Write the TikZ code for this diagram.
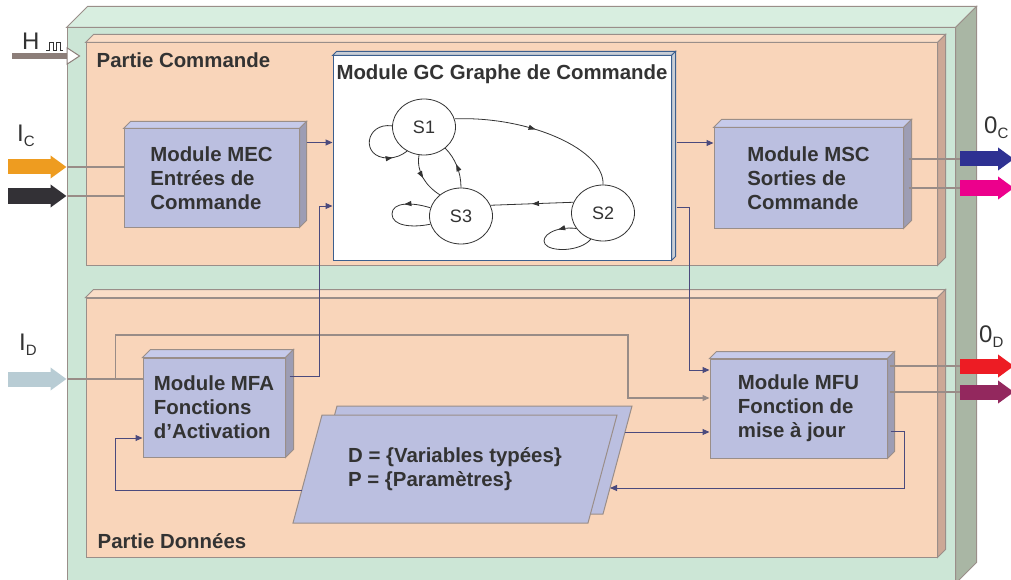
\documentclass[tikz,border=0pt]{standalone}
\usepackage{fontspec}
\setmainfont{Liberation Sans}
\usetikzlibrary{arrows.meta,shapes.geometric,decorations.markings}

\definecolor{vert}{HTML}{CCE6D6}
\definecolor{vertclair}{HTML}{D8EEE0}
\definecolor{vertcote}{HTML}{A9B6A4}
\definecolor{peche}{HTML}{F9D5BA}
\definecolor{pecheclair}{HTML}{FADDC7}
\definecolor{pechecote}{HTML}{CCA896}
\definecolor{mauve}{HTML}{BBBFE0}
\definecolor{mauveclair}{HTML}{C6CAEA}
\definecolor{mauvecote}{HTML}{9D9DB4}
\definecolor{bord}{HTML}{9A8E89}
\definecolor{gcbord}{HTML}{3C5F8E}
\definecolor{gccote}{HTML}{C9CED6}
\definecolor{trait}{HTML}{4B4A7D}
\definecolor{gris}{HTML}{998C87}
\definecolor{texte}{HTML}{333333}
\definecolor{clk}{HTML}{8C7E79}
\definecolor{icorange}{HTML}{EE9C20}
\definecolor{icnoir}{HTML}{333136}
\definecolor{idbleu}{HTML}{B8CCD4}
\definecolor{ocbleu}{HTML}{2E3192}
\definecolor{ocrose}{HTML}{EC008C}
\definecolor{odrouge}{HTML}{ED1C24}
\definecolor{odpourpre}{HTML}{93285E}

\newcommand{\gras}{\fontsize{20.4}{24}\selectfont\bfseries}
% faces du dessus et de droite d'un bloc
\newcommand{\relief}[5][bord]{%
  \filldraw[fill=#4, draw=#1, line width=1pt] (#2.north west) -- ([xshift=#3pt,yshift=#3pt]#2.north west)
    -- ([xshift=#3pt,yshift=#3pt]#2.north east) -- (#2.north east) -- cycle;
  \filldraw[fill=#5, draw=#1, line width=1pt] (#2.north east) -- ([xshift=#3pt,yshift=#3pt]#2.north east)
    -- ([xshift=#3pt,yshift=#3pt]#2.south east) -- (#2.south east) -- cycle;}
\newcommand{\indice}[2]{{\fontsize{24}{24}\selectfont #1}\raisebox{-5pt}{\fontsize{15}{15}\selectfont #2}}

\begin{document}
\begin{tikzpicture}[x=1pt,y=-1pt,
    bloc/.style={rectangle, draw=bord, line width=1pt, inner sep=0pt},
    module/.style={bloc, fill=mauve, font=\gras, text=texte, align=left},
    pave/.style={draw=bord, fill=mauve, line width=1pt},
    titre/.style={font=\gras, text=texte, inner sep=0pt},
    lbl/.style={text=texte, inner sep=0pt, anchor=base west},
    etat/.style={ellipse, draw=texte, fill=white, line width=0.8pt, minimum width=63,
      minimum height=56, inner sep=0pt, font=\fontsize{18}{18}\selectfont, text=texte},
    trans/.style={draw=texte, line width=0.8pt},
    fleche/.style={postaction={decorate}, decoration={markings,
      mark=at position #1 with {\arrow{Triangle[length=7pt,width=5pt]}}}},
    fleche/.default=0.5,
    flot/.style={draw=trait, line width=1pt, -{Triangle[length=7pt,width=6pt]}},
    sig/.style={draw=gris, line width=1.2pt},
    gros/.style={line width=15pt, -{Triangle[length=16pt,width=22pt]}}]
  \useasboundingbox (0,0) rectangle (1011,580);

  % boites
  \node[bloc, fill=vert, minimum width=888, minimum height=555] (systeme) at (511,305.5) {};
  \relief{systeme}{21}{vertclair}{vertcote}
  \node[bloc, fill=peche, minimum width=851, minimum height=222] (commande) at (511.5,154) {};
  \relief{commande}{8}{pecheclair}{pechecote}
  \node[bloc, fill=peche, minimum width=851, minimum height=259] (donnees) at (511.5,427.5) {};
  \relief{donnees}{8}{pecheclair}{pechecote}
  \node[titre, anchor=west] (tcommande) at ([xshift=11pt,yshift=-18pt]commande.north west) {Partie Commande};
  \node[titre, anchor=west] (tdonnees) at ([xshift=12pt,yshift=16pt]donnees.south west) {Partie Données};

  \node[module, minimum width=175, minimum height=98] (mec) at (211.5,178) {Module MEC\\Entrées de\\Commande};
  \relief{mec}{7}{mauveclair}{mauvecote}
  \node[module, minimum width=189, minimum height=100] (msc) at (808.5,178) {Module MSC\\Sorties de\\Commande};
  \relief{msc}{8}{mauveclair}{mauvecote}
  \node[module, minimum width=142, minimum height=99] (mfa) at (214,407.5) {Module MFA\\Fonctions\\d’Activation};
  \relief{mfa}{8}{mauveclair}{mauvecote}
  \node[module, minimum width=177, minimum height=99] (mfu) at (798.5,408.5) {Module MFU\\Fonction de\\mise à jour};
  \relief{mfu}{7}{mauveclair}{mauvecote}
  \node[bloc, draw=gcbord, fill=white, minimum width=338, minimum height=204] (gc) at (502,158) {};
  \relief[gcbord]{gc}{4}{gccote}{gccote}
  \node[titre] (gctitre) at ([yshift=-19pt]gc.north) {Module GC Graphe de Commande};

  % donnees et parametres
  \draw[pave] (337,406) -- (632,406) -- (603,514) -- (308,514) -- cycle;
  \draw[pave] (322,415) -- (617,415) -- (588,523) -- (293,523) -- cycle;
  \node[titre, align=left] (data) at (455,469) {D = \{Variables typées\}\\P = \{Paramètres\}};
  \coordinate (dsortie) at (625,432);
  \coordinate (dentree) at (610,488);
  \coordinate (dretour) at (302,490);

  % graphe de commande
  \node[etat] (s1) at (424,127) {S1};
  \node[etat] (s3) at (461,216) {S3};
  \node[etat] (s2) at (603,213) {S2};
  \draw[trans, fleche=0.8] (s1.178) .. controls (365,122) and (360,158) .. (388,158)
    .. controls (396,158) and (402,155) .. (s1.235);
  \draw[trans, fleche=0.47] (s1.15) .. controls (530,116) and (605,150) .. (s2.north);
  \draw[trans, fleche] (s1.260) .. controls (416,172) and (426,186) .. (s3.135);
  \draw[trans, fleche=0.55] (s3.north) .. controls (461,172) and (455,158) .. (s1.315);
  \draw[trans, fleche] (s2.160) -- (s3.20);
  \draw[trans, fleche=0.3] (s3.165) .. controls (412,202) and (392,202) .. (392,214)
    .. controls (392,226) and (412,228) .. (s3.195);
  \draw[trans, fleche=0.2] (s2.210) .. controls (555,226) and (540,236) .. (545,244)
    .. controls (550,252) and (580,252) .. (s2.245);

  % liaisons
  \coordinate (hclk) at (12,56);
  \coordinate (ic1) at (8,167);
  \coordinate (ic2) at (8,196);
  \coordinate (id) at (8,379);
  \coordinate (oc1) at (960,159);
  \coordinate (oc2) at (960,188);
  \coordinate (od1) at (960,366);
  \coordinate (od2) at (960,392);

  \draw[sig] (ic1 -| systeme.west) -- (ic1 -| mec.west);
  \draw[sig] (ic2 -| systeme.west) -- (ic2 -| mec.west);
  \draw[sig] (id -| systeme.west) -- (id -| mfa.west);
  \draw[sig, -{Triangle[length=7pt,width=6pt]}] ([xshift=-27pt]id -| mfa.west) |- (628,335)
    |- ([yshift=10.5pt]mfu.west);
  \draw[sig] ([xshift=5pt]oc1 -| msc.east) -- (oc1);
  \draw[sig] ([xshift=5pt]oc2 -| msc.east) -- (oc2);
  \draw[sig] ([xshift=2pt]od1 -| mfu.east) -- (od1);
  \draw[sig] ([xshift=2pt]od2 -| mfu.east) -- (od2);

  \draw[flot] ([xshift=7pt,yshift=-14pt]mec.north east) -- ([yshift=-14pt]mec.north east -| gc.west);
  \draw[flot] ([xshift=4pt,yshift=-19pt]mfa.north east) -| ([xshift=-13pt,yshift=-48pt]gc.west)
    -- ([yshift=-48pt]gc.west);
  \draw[flot] ([xshift=5pt,yshift=35pt]msc.west -| gc.east) -- ([yshift=35pt]msc.west);
  \draw[flot] ([xshift=5pt,yshift=-49pt]gc.east) -| ([xshift=-20pt,yshift=38.5pt]mfu.west)
    -- ([yshift=38.5pt]mfu.west);
  \draw[flot] (dsortie) -- (dsortie -| mfu.west);
  \draw[flot] ([xshift=3pt,yshift=-23pt]mfu.east) -| ([xshift=17pt]mfu.east |- dentree) -- (dentree);
  \draw[flot] (dretour) -| ([xshift=-27pt,yshift=-30.5pt]mfa.west) -- ([yshift=-30.5pt]mfa.west);

  % entrees et sorties
  \draw[line width=6pt, draw=clk, -{Triangle[length=14pt,width=18pt,fill=white,line width=1pt]}]
    (hclk) -- ([xshift=14pt]hclk -| systeme.west);
  \draw[gros, icorange] (ic1) -- (ic1 -| systeme.west);
  \draw[gros, icnoir] (ic2) -- (ic2 -| systeme.west);
  \draw[gros, idbleu] (id) -- (id -| systeme.west);
  \draw[gros, ocbleu] (oc1) -- ++(54,0);
  \draw[gros, ocrose] (oc2) -- ++(54,0);
  \draw[gros, odrouge] (od1) -- ++(54,0);
  \draw[gros, odpourpre] (od2) -- ++(54,0);

  \node[lbl] (lh) at (22,50) {\fontsize{24}{24}\selectfont H};
  \draw[texte, line width=0.7pt] (46,50) -- (49,50) -- (49,42) -- (53,42) -- (53,50) -- (56,50)
    -- (56,42) -- (60,42) -- (60,50) -- (63,50);
  \node[lbl] (lic) at (17,142) {\indice{I}{C}};
  \node[lbl] (lid) at (19,350) {\indice{I}{D}};
  \node[lbl] (loc) at (984,134) {\indice{0}{C}};
  \node[lbl] (lod) at (979,342) {\indice{0}{D}};
\end{tikzpicture}
\end{document}
